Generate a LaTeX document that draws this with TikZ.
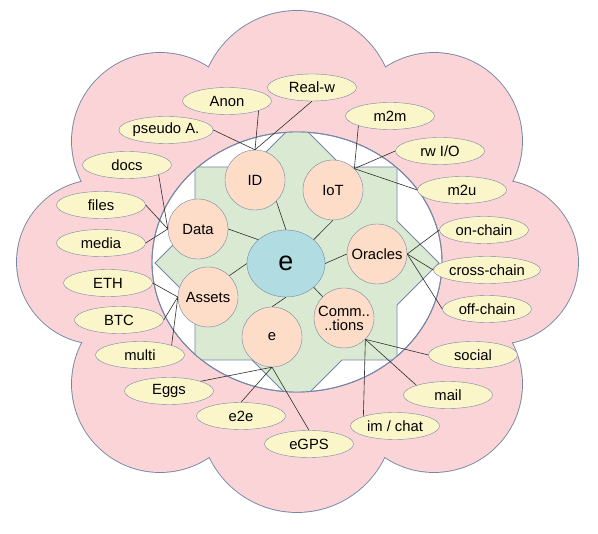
\documentclass[tikz,border=0pt]{standalone}
\usepackage{fontspec}
\setmainfont{Liberation Sans}
\usepackage{xcolor}
\usepackage{tikz}
\usetikzlibrary{positioning, shapes.geometric}

\definecolor{edgec}{RGB}{118,134,166}
\definecolor{cloudc}{RGB}{250,212,214}
\definecolor{starc}{RGB}{218,233,210}
\definecolor{hubc}{RGB}{253,221,200}
\definecolor{leafc}{RGB}{251,246,202}
\definecolor{corec}{RGB}{176,220,226}
\definecolor{linkc}{RGB}{45,45,45}

\begin{document}
\begin{tikzpicture}[x=1pt, y=-1pt,
    leaf/.style={ellipse, draw=edgec, fill=leafc, minimum width=89pt, minimum height=27pt, inner sep=0pt, font=\fontsize{14.8}{16}\selectfont},
    hub/.style={circle, draw=edgec, fill=hubc, minimum size=60pt, inner sep=0pt, align=center, font=\fontsize{14.8}{14}\selectfont},
    link/.style={draw=linkc, line width=0.6pt}]
      \useasboundingbox (0,0) rectangle (598,534);

      \foreach \cx/\cy/\r in {297/108/97, 297/415/97, 99/262/82, 496/262/82, 160/141/88, 434/141/88, 160/384/88, 434/384/88}
        \draw[edgec, line width=1.8pt] (\cx,\cy) circle[radius=\r pt];
      \foreach \cx/\cy/\r in {297/108/97, 297/415/97, 99/262/82, 496/262/82, 160/141/88, 434/141/88, 160/384/88, 434/384/88}
        \fill[cloudc] (\cx,\cy) circle[radius=\r pt];
      \fill[cloudc] (297,262) circle[radius=170pt];

      \draw[edgec, fill=white, line width=0.9pt] (297,262) ellipse[x radius=145pt, y radius=130pt];
      \begin{scope}
        \clip (297,262) ellipse[x radius=145pt, y radius=130pt];
        \draw[edgec, fill=starc, line width=0.8pt] (297,121) -- (343,167) -- (397,167) -- (397,221) -- (439,263) -- (397,305) -- (397,360) -- (342,360) -- (297,405) -- (252,360) -- (195,360) -- (195,303) -- (155,263) -- (195,223) -- (195,167) -- (251,167) -- cycle;
      \end{scope}
      \draw[edgec, line width=0.9pt] (297,262) ellipse[x radius=145pt, y radius=130pt];

      \node[ellipse, draw=edgec, fill=corec, minimum width=78pt, minimum height=67pt, inner sep=0pt, font=\fontsize{27}{28}\selectfont] (core) at (286,263.5) {e};

      \node[hub] (id) at (255,180) {ID};
      \node[hub] (iot) at (333,190) {IoT};
      \node[hub] (data) at (198,229) {Data};
      \node[hub] (orc) at (377,254) {Oracles};
      \node[hub] (ast) at (208,297) {Assets};
      \node[hub] (esm) at (272,337) {e};
      \node[hub] (comm) at (344,318) {Comm..\\..tions};

      \node[leaf] (realw) at (312,87.5) {Real-w};
      \node[leaf] (anon) at (227,101) {Anon};
      \node[leaf] (pseudo) at (166,130) {pseudo A.};
      \node[leaf] (docs) at (127,165) {docs};
      \node[leaf] (files) at (101,205) {files};
      \node[leaf] (media) at (101,243) {media};
      \node[leaf] (mtm) at (390,116) {m2m};
      \node[leaf] (rwio) at (440,151) {rw I/O};
      \node[leaf] (mtu) at (462,190) {m2u};
      \node[leaf] (onch) at (484,230) {on-chain};
      \node[leaf] (crch) at (487,270) {cross-chain};
      \node[leaf] (offch) at (487,309) {off-chain};
      \node[leaf] (social) at (473,355) {social};
      \node[leaf] (mail) at (448,395) {mail};
      \node[leaf] (imchat) at (395,426) {im / chat};
      \node[leaf] (egps) at (309,444) {eGPS};
      \node[leaf] (etwoe) at (241,416) {e2e};
      \node[leaf] (eggs) at (169,391) {Eggs};
      \node[leaf] (multi) at (140,355) {multi};
      \node[leaf] (btc) at (119,320) {BTC};
      \node[leaf] (eth) at (108,283) {ETH};

      \draw[link] (id.south east) -- (core.north);
      \draw[link] (iot.south) -- (core.north east);
      \draw[link] (data.east) -- (core.north west);
      \draw[link] (orc.west) -- (core.east);
      \draw[link] (ast.north east) -- (core.west);
      \draw[link] (esm.north) -- (core.south);
      \draw[link] (comm.north west) -- (core.south east);

      \draw[link] (id.north) -- (pseudo.east);
      \draw[link] (id.north) -- (anon.south east);
      \draw[link] (id.north) -- (realw.south);

      \draw[link] (iot.north east) -- (mtm.south west);
      \draw[link] (iot.north east) -- (rwio.west);
      \draw[link] (iot.north east) -- (mtu.west);

      \draw[link] (data.west) -- (docs.south east);
      \draw[link] (data.west) -- (files.east);
      \draw[link] (data.west) -- (media.east);

      \draw[link] (orc.east) -- (onch.west);
      \draw[link] (orc.east) -- (crch.west);
      \draw[link] (orc.east) -- (offch.west);

      \draw[link] (ast.west) -- (eth.east);
      \draw[link] (ast.west) -- (btc.east);
      \draw[link] (ast.west) -- (multi.north east);

      \draw[link] (esm.south) -- (eggs.north east);
      \draw[link] (esm.south) -- (etwoe.north);
      \draw[link] (esm.south) -- (egps.north);

      \draw[link] (comm.south east) -- (social.west);
      \draw[link] (comm.south east) -- (mail.north west);
      \draw[link] (comm.south east) -- (imchat.north west);
    \end{tikzpicture}
\end{document}
